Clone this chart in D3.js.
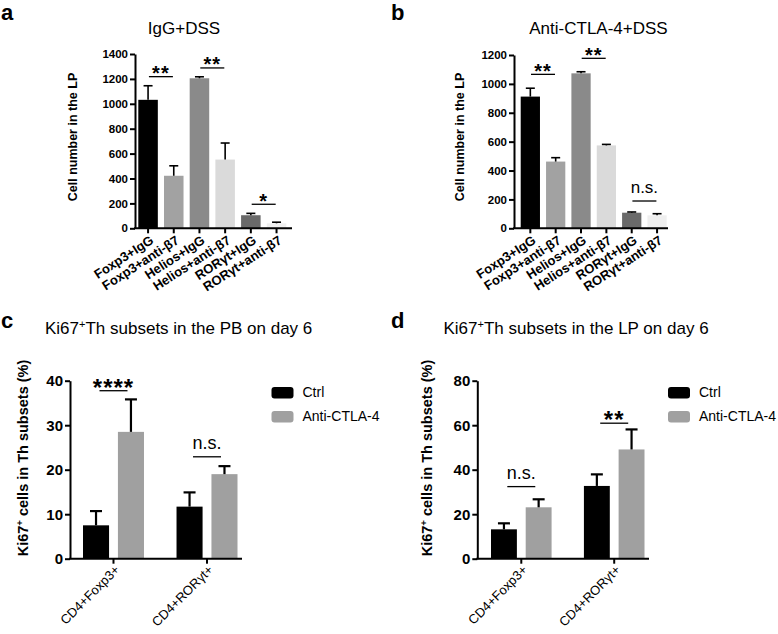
<!DOCTYPE html>
<html><head><meta charset="utf-8">
<script src="https://cdn.jsdelivr.net/npm/d3@7"></script>
<style>
body{margin:0;background:#fff;}
svg{display:block;font-family:"Liberation Sans",Arial,sans-serif;}
</style></head>
<body>
<svg id="chart" width="778" height="634"></svg>
<script>
// ---------- data ----------
const catsAB = ["Foxp3+IgG","Foxp3+anti-β7","Helios+IgG","Helios+anti-β7","RORγt+IgG","RORγt+anti-β7"];
const colorsAB = ["#000000","#a2a2a2","#8a8a8a","#dadada","#6a6a6a","#efefef"];
const valsA = [1032, 422, 1205, 552, 105, 40];
const errA  = [113, 80, 12, 133, 15, 9];
const ticksA = [0,200,400,600,800,1000,1200,1400];
const valsB = [912, 462, 1073, 574, 108, 90];
const errB  = [58, 27, 11, 7, 5, 11];
const ticksB = [0,200,400,600,800,1000,1200];
const sigA = [{i:0,j:1,y:1218,t:"**"},{i:2,j:3,y:1288,t:"**"},{i:4,j:5,y:193,t:"*"}];
const sigB = [{i:0,j:1,y:1066,t:"**"},{i:2,j:3,y:1177,t:"**"},{i:4,j:5,y:189,t:"n.s."}];

const groupsCD = ["CD4+Foxp3+","CD4+RORγt+"];
const seriesCD = ["Ctrl","Anti-CTLA-4"];
const seriesColors = ["#000000","#a0a0a0"];
const ctrlC = [7.5, 11.7], ctrlErrC = [3.2, 3.2];
const antiC = [28.5, 19.0], antiErrC = [7.3, 1.8];
const ticksC = [0,10,20,30,40];
const ctrlD = [13.2, 32.7], ctrlErrD = [2.7, 5.2];
const antiD = [23.1, 49.1], antiErrD = [3.6, 9.0];
const ticksD = [0,20,40,60,80];
const sigC = [{g:0,y:37.75,t:"****"},{g:1,y:22.9,t:"n.s."}];
const sigD = [{g:0,y:32.4,t:"n.s."},{g:1,y:60.9,t:"**"}];

const svg = d3.select("#chart");
const FONT = "'Liberation Sans',Arial,sans-serif";

function sigMark(g, x1, x2, yLine, t, starSize, nsSize){
  g.append("line").attr("x1",x1).attr("x2",x2).attr("y1",yLine).attr("y2",yLine)
    .attr("stroke","#000").attr("stroke-width",1.3);
  const isNS = t === "n.s.";
  g.append("text").attr("x",(x1+x2)/2)
    .attr("y", isNS ? yLine-8 : yLine-5+0.42*starSize)
    .attr("text-anchor","middle")
    .attr("font-size", isNS ? nsSize : starSize)
    .attr("font-weight", isNS ? "normal" : "bold")
    .attr("letter-spacing", isNS ? 0 : 1)
    .text(t);
}

// ---------- panels a & b ----------
function panelAB(opt){
  const g = svg.append("g");
  const x = d3.scaleBand().domain(catsAB).range([opt.bx0, opt.bx1]).paddingInner(0.24).paddingOuter(0);
  const y = d3.scaleLinear().domain([0, opt.max]).range([228.3, opt.ytop]);
  const data = catsAB.map((c,i)=>({c, v:opt.vals[i], e:opt.errs[i], col:colorsAB[i]}));
  g.selectAll("rect.bar").data(data).enter().append("rect")
    .attr("x",d=>x(d.c)).attr("width",x.bandwidth())
    .attr("y",d=>y(d.v)).attr("height",d=>y(0)-y(d.v)).attr("fill",d=>d.col);
  data.forEach(d=>{
    const cx = x(d.c)+x.bandwidth()/2;
    g.append("line").attr("x1",cx).attr("x2",cx).attr("y1",y(d.v)).attr("y2",y(d.v+d.e))
      .attr("stroke","#000").attr("stroke-width",1.6);
    g.append("line").attr("x1",cx-4.5).attr("x2",cx+4.5).attr("y1",y(d.v+d.e)).attr("y2",y(d.v+d.e))
      .attr("stroke","#000").attr("stroke-width",1.6);
  });
  const ya = g.append("g").attr("transform",`translate(${opt.ax},0)`)
    .call(d3.axisLeft(y).tickValues(opt.ticks).tickFormat(d3.format("d")).tickSize(5).tickPadding(2).tickSizeOuter(0));
  ya.select(".domain").attr("stroke-width",2);
  ya.selectAll(".tick line").attr("stroke-width",2);
  ya.selectAll(".tick text").attr("font-size",11.5).attr("font-weight","bold").attr("font-family",FONT).attr("fill","#000");
  const xa = g.append("g").attr("transform",`translate(0,${y(0)})`)
    .call(d3.axisBottom(x).tickSize(5).tickSizeOuter(0).tickFormat(""));
  xa.select(".domain").attr("d",`M${opt.ax-1},0H${opt.axEnd}`).attr("stroke-width",2);
  xa.selectAll(".tick line").attr("stroke-width",2);
  catsAB.forEach(c=>{
    const cx = x(c)+x.bandwidth()/2;
    g.append("text").attr("transform",`translate(${cx+1},${y(0)+6}) rotate(-33)`)
      .attr("text-anchor","end").attr("dy","0.75em")
      .attr("font-size",13).attr("font-weight","bold").text(c);
  });
  g.append("text").attr("transform",`translate(${opt.ylx},${opt.yly}) rotate(-90)`)
    .attr("text-anchor","middle").attr("font-size",12.5).attr("font-weight","bold")
    .text("Cell number in the LP");
  g.append("text").attr("x",opt.tx).attr("y",34).attr("text-anchor","middle")
    .attr("font-size",17).text(opt.title);
  g.append("text").attr("x",opt.lx).attr("y",20).attr("font-size",22).attr("font-weight","bold").text(opt.letter);
  opt.sig.forEach(s=>{
    const c1 = x(catsAB[s.i])+x.bandwidth()/2, c2 = x(catsAB[s.j])+x.bandwidth()/2;
    const m = (c1+c2)/2;
    sigMark(g, m-12, m+12, y(s.y), s.t, 20, 17);
  });
}

panelAB({bx0:138.3, bx1:286.3, ax:135, axEnd:292, max:1400, ytop:54, ticks:ticksA,
  vals:valsA, errs:errA, ylx:77, yly:137, tx:184, title:"IgG+DSS", lx:1, letter:"a", sig:sigA});
panelAB({bx0:520.7, bx1:666.7, ax:514, axEnd:668, max:1200, ytop:55, ticks:ticksB,
  vals:valsB, errs:errB, ylx:464, yly:137, tx:598.5, title:"Anti-CTLA-4+DSS", lx:391, letter:"b", sig:sigB});

// ---------- panels c & d ----------
function panelCD(opt){
  const g = svg.append("g");
  const x0 = d3.scaleBand().domain(groupsCD).range([opt.bx0, opt.bx1]).paddingInner(0.348).paddingOuter(0);
  const x1 = d3.scaleBand().domain(seriesCD).range([0, x0.bandwidth()]).paddingInner(0.254);
  const y = d3.scaleLinear().domain([0, opt.max]).range([558.7, 380.7]);
  const rows = [];
  groupsCD.forEach((gname,gi)=>{
    rows.push({g:gname, s:seriesCD[0], v:opt.ctrl[gi], e:opt.ctrlErr[gi], col:seriesColors[0]});
    rows.push({g:gname, s:seriesCD[1], v:opt.anti[gi], e:opt.antiErr[gi], col:seriesColors[1]});
  });
  g.selectAll("rect.bar").data(rows).enter().append("rect")
    .attr("x",d=>x0(d.g)+x1(d.s)).attr("width",x1.bandwidth())
    .attr("y",d=>y(d.v)).attr("height",d=>y(0)-y(d.v)).attr("fill",d=>d.col);
  rows.forEach(d=>{
    const cx = x0(d.g)+x1(d.s)+x1.bandwidth()/2;
    g.append("line").attr("x1",cx).attr("x2",cx).attr("y1",y(d.v)).attr("y2",y(d.v+d.e))
      .attr("stroke","#000").attr("stroke-width",2.2);
    g.append("line").attr("x1",cx-6).attr("x2",cx+6).attr("y1",y(d.v+d.e)).attr("y2",y(d.v+d.e))
      .attr("stroke","#000").attr("stroke-width",2.2);
  });
  const ya = g.append("g").attr("transform",`translate(${opt.ax},0)`)
    .call(d3.axisLeft(y).tickValues(opt.ticks).tickSize(5).tickPadding(2).tickSizeOuter(0));
  ya.select(".domain").attr("stroke-width",2);
  ya.selectAll(".tick line").attr("stroke-width",2);
  ya.selectAll(".tick text").attr("font-size",15).attr("font-weight","bold").attr("font-family",FONT).attr("fill","#000");
  const xa = g.append("g").attr("transform",`translate(0,${y(0)})`)
    .call(d3.axisBottom(x0).tickSize(5).tickSizeOuter(0).tickFormat(""));
  xa.select(".domain").attr("d",`M${opt.ax-1},0H${opt.axEnd}`).attr("stroke-width",2);
  xa.selectAll(".tick line").attr("stroke-width",2);
  groupsCD.forEach(c=>{
    const cx = x0(c)+x0.bandwidth()/2;
    g.append("text").attr("transform",`translate(${cx},${y(0)+5}) rotate(-45)`)
      .attr("text-anchor","end").attr("dy","0.75em")
      .attr("font-size",13).text(c);
  });
  const yl = g.append("text").attr("transform",`translate(${opt.ylx},458) rotate(-90)`)
    .attr("text-anchor","middle").attr("font-size",14.5).attr("font-weight","bold");
  yl.append("tspan").text("Ki67");
  yl.append("tspan").attr("dy",-5).attr("font-size",9.5).text("+");
  yl.append("tspan").attr("dy",5).text(" cells in Th subsets (%)");
  const t = g.append("text").attr("x",opt.tx).attr("y",333.5).attr("font-size",17);
  t.append("tspan").text("Ki67");
  t.append("tspan").attr("dy",-6).attr("font-size",11).text("+");
  t.append("tspan").attr("dy",6).text(opt.title);
  g.append("text").attr("x",opt.lx).attr("y",328).attr("font-size",22).attr("font-weight","bold").text(opt.letter);
  seriesCD.forEach((s,i)=>{
    g.append("rect").attr("x",opt.legx).attr("y",387+i*24).attr("width",22).attr("height",11.5)
      .attr("rx",3).attr("fill",seriesColors[i]);
    g.append("text").attr("x",opt.legx+31).attr("y",392.5+i*24).attr("dy","0.35em")
      .attr("font-size",14).text(s);
  });
  opt.sig.forEach(s=>{
    const m = x0(groupsCD[s.g])+x0.bandwidth()/2;
    sigMark(g, m-14, m+14, y(s.y), s.t, 24, 18);
  });
}

panelCD({bx0:83, bx1:237.5, ax:70, axEnd:242, max:40, ticks:ticksC,
  ctrl:ctrlC, ctrlErr:ctrlErrC, anti:antiC, antiErr:antiErrC,
  ylx:28, tx:45, title:"Th subsets in the PB on day 6", lx:1, letter:"c", legx:271.5, sig:sigC});
panelCD({bx0:491, bx1:644.5, ax:477.3, axEnd:649, max:80, ticks:ticksD,
  ctrl:ctrlD, ctrlErr:ctrlErrD, anti:antiD, antiErr:antiErrD,
  ylx:431.5, tx:443.5, title:"Th subsets in the LP on day 6", lx:391, letter:"d", legx:668, sig:sigD});
</script>
</body></html>
